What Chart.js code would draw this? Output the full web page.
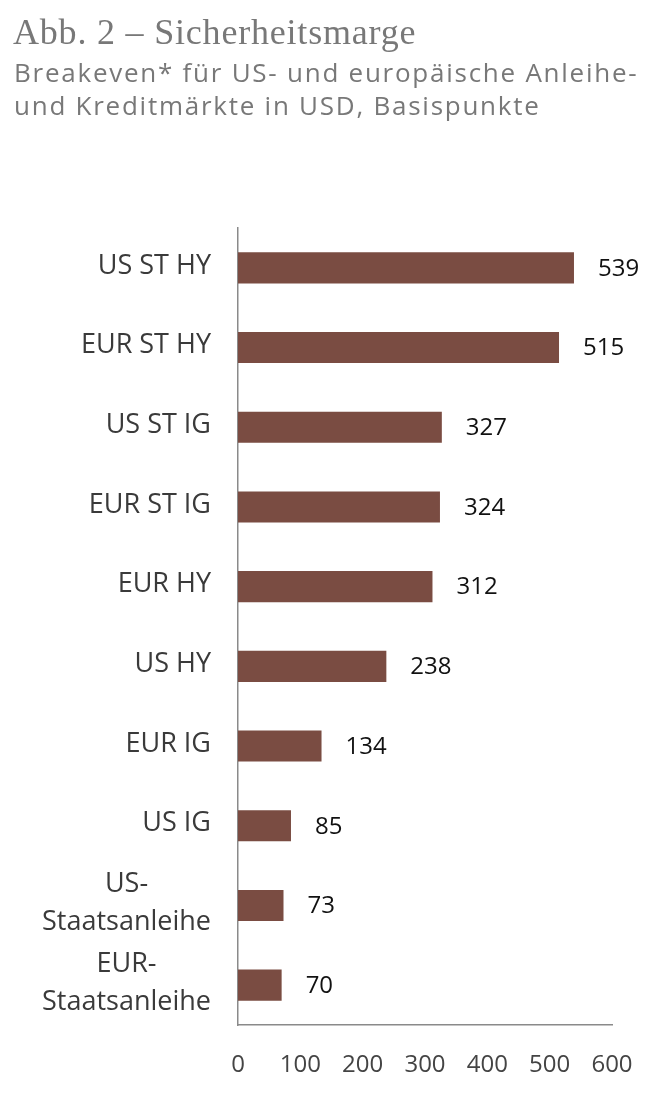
<!DOCTYPE html>
<html>
<head>
<meta charset="utf-8">
<script src="https://cdn.jsdelivr.net/npm/chart.js@4"></script>
<style>
  html, body { margin: 0; padding: 0; background: #fff; }
  #wrap { width: 654px; height: 1104px; position: relative; }
</style>
</head>
<body>
<div id="wrap"><canvas id="chart"></canvas></div>
<script>
const titleText = "Abb. 2 – Sicherheitsmarge";
const subtitleLines = ["Breakeven* für US- und europäische Anleihe-", "und Kreditmärkte in USD, Basispunkte"];
const categories = [
  "US ST HY", "EUR ST HY", "US ST IG", "EUR ST IG", "EUR HY",
  "US HY", "EUR IG", "US IG", ["US-", "Staatsanleihe"], ["EUR-", "Staatsanleihe"]
];
const breakeven = [539, 515, 327, 324, 312, 238, 134, 85, 73, 70];
const xTicks = [0, 100, 200, 300, 400, 500, 600];

const barColor = "#7a4c42";
const sans = "'Open Sans', 'Noto Sans', sans-serif";

// heading drawn by hand so the letter spacing can follow the original
const heading = {
  id: "heading",
  afterDraw(chart) {
    const ctx = chart.ctx;
    ctx.save();
    ctx.fillStyle = "#787878";
    ctx.textAlign = "left";
    ctx.textBaseline = "alphabetic";
    ctx.font = "36px 'Liberation Serif', 'DejaVu Serif', serif";
    ctx.letterSpacing = "0.8px";
    ctx.fillText(titleText, 13, 44);
    ctx.font = "26px " + sans;
    ctx.letterSpacing = "1.75px";
    subtitleLines.forEach((line, i) => ctx.fillText(line, 14, 82 + i * 33));
    ctx.restore();
  }
};

// value labels right of each bar
const valueLabels = {
  id: "valueLabels",
  afterDatasetsDraw(chart) {
    const ctx = chart.ctx;
    const meta = chart.getDatasetMeta(0);
    ctx.save();
    ctx.font = "24px " + sans;
    ctx.fillStyle = "#111";
    ctx.textAlign = "left";
    ctx.textBaseline = "middle";
    meta.data.forEach((bar, i) => {
      ctx.fillText(String(breakeven[i]), bar.x + 24, bar.y + 1);
    });
    ctx.restore();
  }
};

// category labels: single lines right aligned, two-line labels centred on each other
const categoryLabels = {
  id: "categoryLabels",
  afterDraw(chart) {
    const ctx = chart.ctx;
    const y = chart.scales.y;
    const right = chart.chartArea.left - 27;
    ctx.save();
    ctx.font = "27px " + sans;
    ctx.fillStyle = "#3a3a3a";
    ctx.textBaseline = "middle";
    categories.forEach((label, i) => {
      const cy = y.getPixelForValue(i);
      if (Array.isArray(label)) {
        const w = Math.max(...label.map(l => ctx.measureText(l).width));
        ctx.textAlign = "center";
        label.forEach((line, k) => {
          ctx.fillText(line, right - w / 2, cy - 2 + (k - (label.length - 1) / 2) * 38);
        });
      } else {
        ctx.textAlign = "right";
        ctx.fillText(label, right, cy - 2);
      }
    });
    ctx.restore();
  }
};

new Chart(document.getElementById("chart"), {
  type: "bar",
  data: {
    labels: categories,
    datasets: [{
      data: breakeven,
      backgroundColor: barColor,
      barPercentage: 0.39,
      categoryPercentage: 1
    }]
  },
  options: {
    indexAxis: "y",
    responsive: true,
    maintainAspectRatio: false,
    animation: false,
    layout: { padding: { left: 14, right: 42, top: 228, bottom: 0 } },
    plugins: {
      legend: { display: false },
      tooltip: { enabled: false },
      title: { display: false }
    },
    scales: {
      x: {
        min: 0,
        max: 600,
        afterBuildTicks(scale) {
          scale.ticks = xTicks.map(v => ({ value: v }));
        },
        afterFit(scale) {
          scale.height = 79;
          scale.paddingLeft = 0;
          scale.paddingRight = 0;
        },
        grid: { display: false, drawTicks: false },
        border: { display: true, color: "#8a8a8a", width: 1.5 },
        ticks: {
          color: "#444",
          padding: 26,
          font: { family: sans, size: 24 },
          maxRotation: 0
        }
      },
      y: {
        afterFit(scale) { scale.width = 224; },
        grid: { display: false, drawTicks: false },
        border: { display: true, color: "#8a8a8a", width: 1.5 },
        ticks: { display: false }
      }
    }
  },
  plugins: [heading, valueLabels, categoryLabels]
});
</script>
</body>
</html>
